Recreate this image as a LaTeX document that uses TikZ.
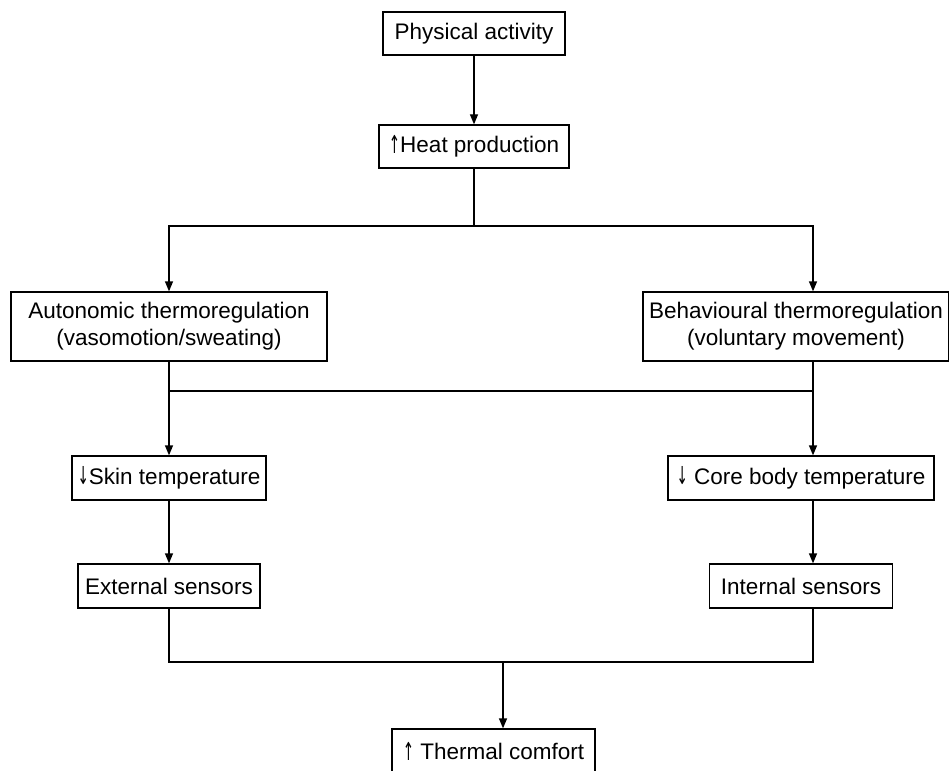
\documentclass[tikz,border=0pt]{standalone}
\usepackage{fontspec}
\setmainfont{Liberation Sans}
\newfontfamily\symfont{DejaVu Sans}
\usetikzlibrary{arrows.meta}
\newcommand\uparr{\raisebox{-0.5pt}{\scalebox{0.6}[1.1]{\symfont ↑}}}
\newcommand\dnarr{\raisebox{-0.5pt}{\scalebox{0.6}[1.1]{\symfont ↓}}}

\begin{document}
\begin{tikzpicture}[x=1pt,y=-1pt,
  box/.style={draw, line width=1.3pt, inner sep=0pt, align=center,
    font=\fontsize{22.5}{27}\selectfont},
  arr/.style={line width=1.3pt, -{Triangle[length=10pt,width=8pt]}},
  ln/.style={line width=1.3pt}]
  \clip (0,0) rectangle (949,770);

  \node [box, minimum width=182, minimum height=43] (pa) at (474,33.5) {Physical activity};
  \node [box, minimum width=190, minimum height=43] (hp) at (474,146.5) {\uparr Heat production};

  \node [box, minimum width=316, minimum height=69] (at) at (169,326.5) {Autonomic thermoregulation\\(vasomotion/sweating)};
  \node [box, minimum width=306, minimum height=69] (bt) at (796,326.5) {Behavioural thermoregulation\\(voluntary movement)};

  \node [box, minimum width=194, minimum height=44] (sk) at (169,478) {\dnarr Skin temperature};
  \node [box, minimum width=266, minimum height=44] (cb) at (801,478) {\dnarr\ Core body temperature};

  \node [box, minimum width=182, minimum height=44] (ex) at (169,586) {External sensors};
  \node [box, minimum width=183, minimum height=44] (in) at (801,586) {Internal sensors};

  \node [box, minimum width=203, minimum height=44] (tc) at (493.5,751) {\uparr\ Thermal comfort};

  \coordinate (split1) at (474,226);
  \coordinate (j2l) at (169,391);
  \coordinate (j2r) at (813,391);
  \coordinate (j3l) at (169,662);
  \coordinate (j3r) at (813,662);
  \coordinate (j3m) at (503,662);

  \draw [arr] (pa) -- (hp);
  \draw [ln] (hp) -- (split1);
  \draw [arr] (split1) -| (at.north);
  \draw [arr] (split1) -| ([xshift=17]bt.north);

  \draw [arr] (at) -- (sk);
  \draw [arr] ([xshift=17]bt.south) -- ([xshift=12]cb.north);
  \draw [ln] (j2l) -- (j2r);

  \draw [arr] (sk) -- (ex);
  \draw [arr] ([xshift=12]cb.south) -- ([xshift=12]in.north);

  \draw [ln] (ex) -- (j3l) -- (j3r) -- ([xshift=12]in.south);
  \draw [arr] (j3m) -- ([xshift=9.5]tc.north);

\end{tikzpicture}
\end{document}
